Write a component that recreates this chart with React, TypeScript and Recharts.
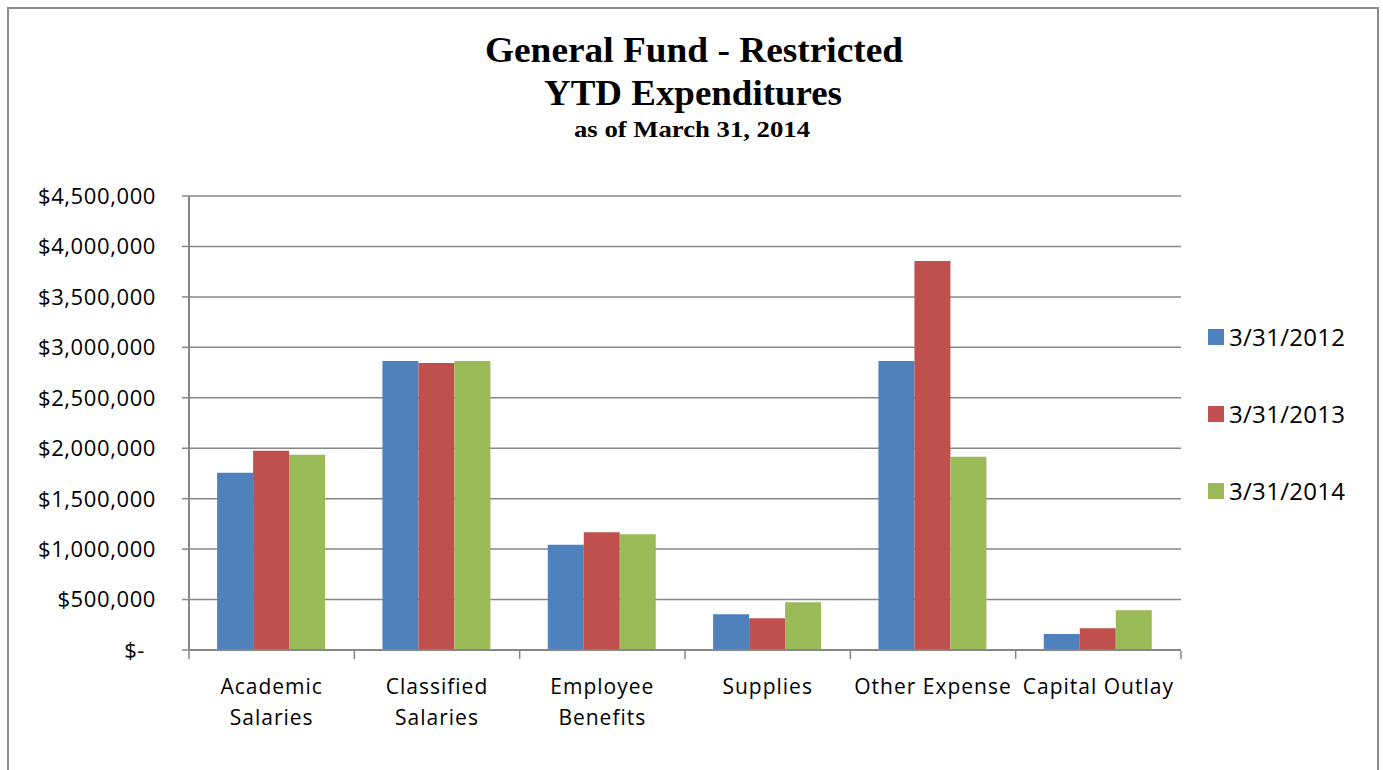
import { BarChart, Bar, XAxis, YAxis, CartesianGrid, Legend } from "recharts";

const categories = [
  "Academic\nSalaries",
  "Classified\nSalaries",
  "Employee\nBenefits",
  "Supplies",
  "Other Expense",
  "Capital Outlay",
];
const ytd2012 = [1757000, 2864000, 1044000, 354000, 2864000, 159000];
const ytd2013 = [1975000, 2844000, 1166000, 314000, 3855000, 215000];
const ytd2014 = [1936000, 2864000, 1147000, 473000, 1916000, 393000];
const seriesNames = ["3/31/2012", "3/31/2013", "3/31/2014"];
const seriesColors = ["#4F81BD", "#C0504D", "#9BBB59"];
const yTicks = [0, 500000, 1000000, 1500000, 2000000, 2500000, 3000000, 3500000, 4000000, 4500000];
const edgeTicks = [0, 1, 2, 3, 4, 5, 6];
const titleLines = ["General Fund - Restricted", "YTD Expenditures", "as of March 31, 2014"];

const GRID = "#878787";
const SANS = "'Open Sans', sans-serif";

const chartData = categories.map((category, i) => ({
  category,
  idx: i + 0.5,
  y2012: ytd2012[i],
  y2013: ytd2013[i],
  y2014: ytd2014[i],
}));

function ValueTick(props: any) {
  const { x, y, payload } = props;
  const v = payload.value as number;
  const label = v === 0 ? "$-" : "$" + v.toLocaleString("en-US");
  return (
    <text
      x={x + (v === 0 ? -35 : -24)}
      y={y}
      dy="0.36em"
      textAnchor="end"
      fontFamily={SANS}
      fontSize={22}
      letterSpacing={0.6}
      fill="#000"
    >
      {label}
    </text>
  );
}

function CategoryTick(props: any) {
  const { x, y, payload } = props;
  const lines = String(payload.value).split("\n");
  return (
    <text
      x={x}
      y={y}
      textAnchor="middle"
      fontFamily={SANS}
      fontSize={21}
      letterSpacing={1}
      fill="#000"
    >
      {lines.map((line, i) => (
        <tspan key={i} x={x} dy={i === 0 ? 36 : 31}>
          {line}
        </tspan>
      ))}
    </text>
  );
}

function renderLegend(props: any) {
  const payload = props.payload || [];
  return (
    <div>
      {payload.map((entry: any) => (
        <div
          key={entry.value}
          style={{ height: 77, display: "flex", alignItems: "center" }}
        >
          <div
            style={{ width: 16, height: 16, background: entry.color, marginRight: 5 }}
          />
          <span
            style={{ fontFamily: SANS, fontSize: 24, letterSpacing: 0.3, color: "#000" }}
          >
            {entry.value}
          </span>
        </div>
      ))}
    </div>
  );
}

export default function App() {
  return (
    <div
      style={{
        position: "absolute",
        left: 0,
        top: 0,
        width: 1383,
        height: 770,
        overflow: "hidden",
        background: "#fff",
      }}
    >
      <div
        style={{
          position: "absolute",
          left: 7,
          top: 7,
          width: 1368,
          height: 820,
          border: "2px solid #8c8c8c",
        }}
      />
      <svg
        width={1383}
        height={160}
        style={{ position: "absolute", left: 0, top: 0 }}
      >
        <text
          x={694}
          y={62}
          textAnchor="middle"
          fontFamily="'Liberation Serif', serif"
          fontWeight="bold"
          fontSize={36}
          textLength={418}
          lengthAdjust="spacingAndGlyphs"
        >
          {titleLines[0]}
        </text>
        <text
          x={693}
          y={105}
          textAnchor="middle"
          fontFamily="'Liberation Serif', serif"
          fontWeight="bold"
          fontSize={36}
          textLength={298}
          lengthAdjust="spacingAndGlyphs"
        >
          {titleLines[1]}
        </text>
        <text
          x={692}
          y={137}
          textAnchor="middle"
          fontFamily="'Liberation Serif', serif"
          fontWeight="bold"
          fontSize={24}
          textLength={236}
          lengthAdjust="spacingAndGlyphs"
        >
          {titleLines[2]}
        </text>
      </svg>
      <div style={{ position: "absolute", left: 0, top: 0 }}>
        <BarChart
          width={1383}
          height={770}
          data={chartData}
          margin={{ top: 196, right: 202, left: 0, bottom: 118 }}
          barCategoryGap="17%"
          barGap={0}
        >
          <CartesianGrid vertical={false} stroke={GRID} strokeWidth={1.5} />
          <XAxis
            dataKey="category"
            height={1}
            interval={0}
            tickLine={false}
            axisLine={{ stroke: GRID, strokeWidth: 2 }}
            tick={<CategoryTick />}
          />
          <XAxis
            xAxisId="edges"
            dataKey="idx"
            type="number"
            domain={[0, 6]}
            ticks={edgeTicks}
            interval={0}
            allowDataOverflow
            height={1}
            axisLine={false}
            tickSize={8}
            tickLine={{ stroke: GRID, strokeWidth: 1.5 }}
            tickFormatter={() => ""}
          />
          <YAxis
            width={189}
            domain={[0, 4500000]}
            ticks={yTicks}
            interval={0}
            tickSize={7}
            tickLine={{ stroke: GRID, strokeWidth: 1.5 }}
            axisLine={{ stroke: GRID, strokeWidth: 2 }}
            tick={<ValueTick />}
          />
          <Legend
            layout="vertical"
            align="center"
            verticalAlign="middle"
            wrapperStyle={{ left: 1208, top: 298, width: 170, height: 231 }}
            content={renderLegend}
          />
          <Bar dataKey="y2012" name={seriesNames[0]} fill={seriesColors[0]} isAnimationActive={false} />
          <Bar dataKey="y2013" name={seriesNames[1]} fill={seriesColors[1]} isAnimationActive={false} />
          <Bar dataKey="y2014" name={seriesNames[2]} fill={seriesColors[2]} isAnimationActive={false} />
        </BarChart>
      </div>
    </div>
  );
}
